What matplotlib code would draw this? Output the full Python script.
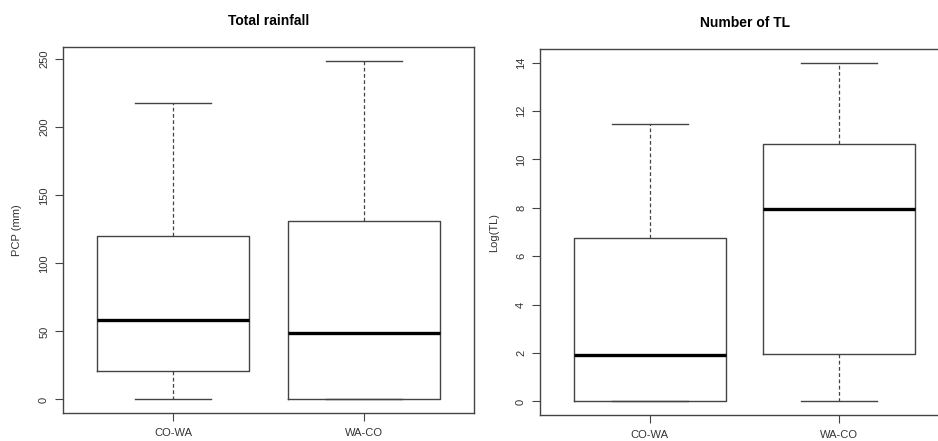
import matplotlib
matplotlib.use("Agg")
import matplotlib.pyplot as plt

plt.rcParams['font.family'] = ['Liberation Sans', 'DejaVu Sans']

groups = ["CO-WA", "WA-CO"]

# Total rainfall (PCP, mm)
rain_whislo = [0, 0]
rain_q1 = [21, 0]
rain_med = [58.3, 48.8]
rain_q3 = [120.3, 130.9]
rain_whishi = [218, 249]
rain_ticks = [0, 50, 100, 150, 200, 250]

# Number of TL (log)
tl_whislo = [0, 0]
tl_q1 = [0, 1.94]
tl_med = [1.92, 7.93]
tl_q3 = [6.74, 10.62]
tl_whishi = [11.45, 14]
tl_ticks = [0, 2, 4, 6, 8, 10, 12, 14]

W, H = 938, 441
fig = plt.figure(figsize=(W / 100, H / 100), dpi=100)

gray = "#444444"
txt = "#333333"


def panel(rect, lo, q1, med, q3, hi, ticks, title, ylabel):
    ax = fig.add_axes(rect)
    stats = []
    for i, g in enumerate(groups):
        stats.append(dict(label=g, whislo=lo[i], q1=q1[i], med=med[i],
                          q3=q3[i], whishi=hi[i], fliers=[]))
    ax.bxp(stats, positions=[1, 2], widths=0.8, showfliers=False,
           boxprops=dict(color=gray, linewidth=1.0),
           medianprops=dict(color="black", linewidth=2.4, solid_capstyle="butt"),
           whiskerprops=dict(color=gray, linewidth=0.9, linestyle=(0, (3, 2))),
           capprops=dict(color=gray, linewidth=1.0), capwidths=0.4)
    ax.set_xlim(0.42, 2.58)
    ymin, ymax = min(lo), max(hi)
    ext = (ymax - ymin) * 0.04
    ax.set_ylim(ymin - ext, ymax + ext)
    ax.set_yticks(ticks)
    ax.set_yticklabels([str(t) for t in ticks], rotation=90, va="center",
                       fontsize=8, color=txt)
    ax.set_xticks([1, 2])
    ax.set_xticklabels(groups, fontsize=8, color=txt)
    ax.tick_params(axis="both", direction="out", length=6, width=0.8,
                   colors=gray, labelcolor=txt)
    ax.tick_params(axis="y", pad=4)
    ax.tick_params(axis="x", pad=5)
    for s in ax.spines.values():
        s.set_color(gray)
        s.set_linewidth(1.0)
    ax.set_ylabel(ylabel, fontsize=8, color=txt, labelpad=12)
    ax.set_title(title, fontsize=10, fontweight="bold", pad=16)
    return ax


ax1 = panel([63 / W, 1 - 413 / H, (474 - 63) / W, (413 - 47) / H],
            rain_whislo, rain_q1, rain_med, rain_q3, rain_whishi, rain_ticks,
            "Total rainfall", "PCP (mm)")
ax2 = panel([540 / W, 1 - 415 / H, (949 - 540) / W, (415 - 49) / H],
            tl_whislo, tl_q1, tl_med, tl_q3, tl_whishi, tl_ticks,
            "Number of TL", "Log(TL)")

fig.savefig("out.png", dpi=100)
